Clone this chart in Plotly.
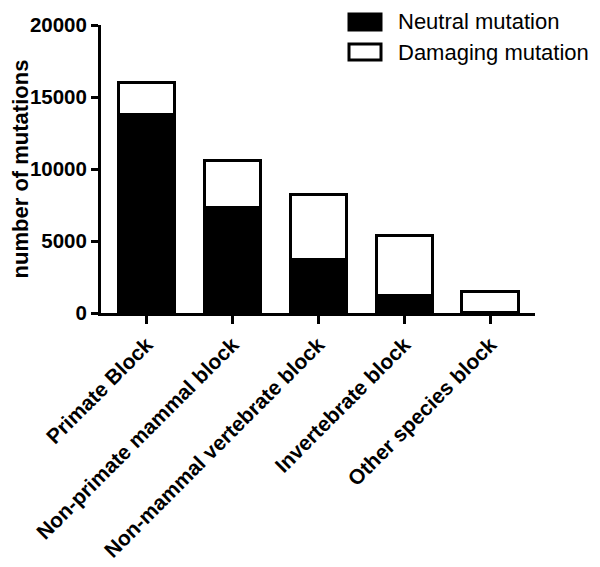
import plotly.graph_objects as go

categories = ["Primate Block", "Non-primate mammal block", "Non-mammal vertebrate block",
              "Invertebrate block", "Other species block"]
neutral = [13800, 7300, 3730, 1250, 60]
damaging = [2200, 3300, 4470, 4150, 1420]
series_names = ["Neutral mutation", "Damaging mutation"]
y_ticks = [0, 5000, 10000, 15000, 20000]

FONT = "Liberation Sans, Arial, sans-serif"

fig = go.Figure()
fig.add_trace(go.Bar(x=categories, y=neutral, name=series_names[0],
                     marker=dict(color="black", line=dict(color="black", width=3))))
fig.add_trace(go.Bar(x=categories, y=damaging, name=series_names[1],
                     marker=dict(color="white", line=dict(color="black", width=3))))

# page has an 8px body margin; plot area sits at page x 101..535, y 25..313
fig.update_layout(
    width=600, height=567,
    barmode="stack", bargap=0.34,
    showlegend=False,
    paper_bgcolor="white", plot_bgcolor="white",
    margin=dict(l=93, r=73, t=17, b=262, autoexpand=False),
    font=dict(family=FONT, color="black"),
)
fig.update_yaxes(
    range=[0, 20000], tickvals=y_ticks, ticktext=[str(v) for v in y_ticks],
    showgrid=False, zeroline=False,
    showline=True, linecolor="black", linewidth=3,
    ticks="outside", ticklen=7, tickwidth=3, tickcolor="black",
    tickfont=dict(family=FONT, size=20.5, weight="bold"),
    title=dict(text="number of mutations", font=dict(family=FONT, size=22, weight="bold"), standoff=6),
)
fig.update_xaxes(
    range=[-0.53, 4.52],
    showgrid=False, zeroline=False,
    showline=True, linecolor="black", linewidth=3,
    ticks="outside", ticklen=8, tickwidth=3, tickcolor="black",
    tickangle=-45,
    tickfont=dict(family=FONT, size=21, weight="bold"),
)

# legend drawn in paper coordinates (relative to plot area: x 101..535, y 25..313 on the page)
def px(x):
    return (x - 101) / 434

def py(y):
    return (313 - y) / 288

legend_rows = [(series_names[0], "black", 22), (series_names[1], "white", 52)]
for name, fill, yc in legend_rows:
    fig.add_shape(type="rect", xref="paper", yref="paper",
                  x0=px(349), x1=px(381), y0=py(yc + 8), y1=py(yc - 8),
                  fillcolor=fill, line=dict(color="black", width=3))
    fig.add_annotation(xref="paper", yref="paper",
                       x=px(396), y=py(yc),
                       xanchor="left", yanchor="middle", showarrow=False,
                       text=name, font=dict(family=FONT, size=22, color="black"))

fig.write_html("out.html")
